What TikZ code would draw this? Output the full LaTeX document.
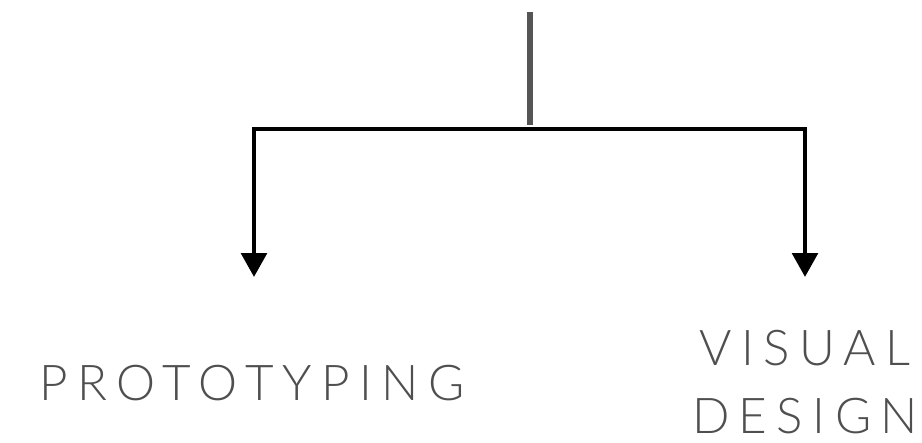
\documentclass[tikz,border=0pt]{standalone}
\usepackage{fontspec}
\setmainfont{Lato}
\newfontfamily\labelfont[LetterSpace=19]{Lato Light}
\usetikzlibrary{arrows.meta}
\definecolor{stemgray}{HTML}{555555}
\definecolor{textgray}{HTML}{4F4F4F}
\tikzset{
  stem/.style={draw=stemgray, line width=3.8pt},
  branch/.style={draw=black, line width=3.6pt, line join=miter, -{Triangle[width=19pt,length=18pt]}},
  label/.style={text=textgray, font=\labelfont\fontsize{37}{51}\selectfont, inner sep=0pt, align=center}
}
\begin{document}
\begin{tikzpicture}[x=0.75pt,y=-0.75pt]
\useasboundingbox (0,0) rectangle (922,443);
\coordinate (top) at (530,12);
\coordinate (stemend) at (530,125);
\coordinate (j) at (530,129);
\coordinate (la) at (254,277);
\coordinate (ra) at (805,277);
\draw[stem] (top) -- (stemend);
\draw[branch] (j) -| (la);
\draw[branch] (j) -| (ra);
\node[label] (proto) at (252,383) {PROTOTYPING};
\node[label] (visual) at (805,382) {VISUAL\\DESIGN};
\end{tikzpicture}
\end{document}
